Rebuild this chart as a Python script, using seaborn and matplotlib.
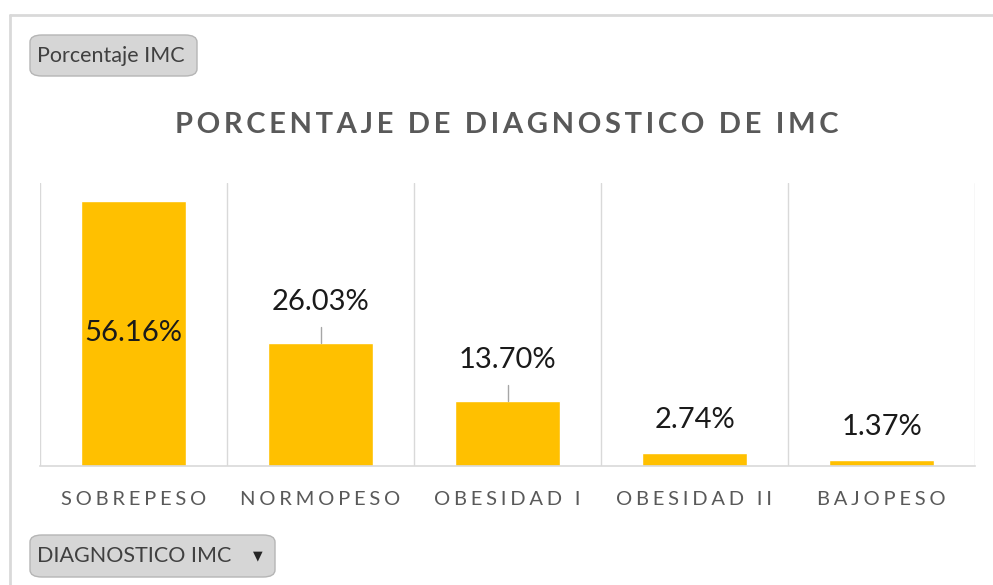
import matplotlib
matplotlib.use("Agg")
import matplotlib.pyplot as plt
import seaborn as sns
import pandas as pd
from matplotlib.patches import FancyBboxPatch
from matplotlib.lines import Line2D

categorias = ["SOBREPESO", "NORMOPESO", "OBESIDAD I", "OBESIDAD II", "BAJOPESO"]
porcentajes = [56.16, 26.03, 13.70, 2.74, 1.37]
etiquetas = ["56.16%", "26.03%", "13.70%", "2.74%", "1.37%"]
titulo = "PORCENTAJE DE DIAGNOSTICO DE IMC"
boton_arriba = "Porcentaje IMC"
boton_abajo = "DIAGNOSTICO IMC"

sns.set_style("white")
plt.rcParams["font.family"] = ["Lato", "DejaVu Sans"]

W, H = 993, 585


def espaciar(s, sep="\u2009"):
    # imitate the letter spacing of the original
    return sep.join(s)


df = pd.DataFrame({"cat": categorias, "pct": porcentajes})

fig = plt.figure(figsize=(W / 100, H / 100), dpi=100)
ax = fig.add_axes([40 / W, (H - 466) / H, (975 - 40) / W, (466 - 183) / H])

sns.barplot(data=df, x="cat", y="pct", color="#FFC000", width=0.56,
            saturation=1, ax=ax)
ax.set_ylim(0, 60)
ax.set_xlim(-0.5, len(categorias) - 0.5)
ax.set_xlabel("")
ax.set_ylabel("")
ax.set_yticks([])
ax.set_xticks(range(len(categorias)))
ax.set_xticklabels([espaciar(c, "\u2009\u200a") for c in categorias],
                   fontsize=14.5, color="#595959")
ax.tick_params(axis="x", length=0, pad=18)
for s in ["top", "right", "left"]:
    ax.spines[s].set_visible(False)
ax.spines["bottom"].set_color("#d9d9d9")
ax.spines["bottom"].set_linewidth(1.2)

# vertical separators between categories
for xv in [i - 0.5 for i in range(len(categorias) + 1)]:
    ax.axvline(xv, color="#d9d9d9", lw=1, zorder=0)

# data labels (offsets in pixels, converted to data units)
ppu = (466 - 183) / 60
for i, (v, lab) in enumerate(zip(porcentajes, etiquetas)):
    if i == 0:
        ax.text(i, v - 28, lab, ha="center", va="center",
                fontsize=21, color="#1a1a1a")
    elif v > 10:
        ax.plot([i, i], [v, v + 16 / ppu], color="#a6a6a6", lw=1)
        ax.text(i, v + 41 / ppu, lab, ha="center", va="center",
                fontsize=21, color="#1a1a1a")
    else:
        ax.text(i, v + 33 / ppu, lab, ha="center", va="center",
                fontsize=21, color="#1a1a1a")

# title
fig.text(507 / W, 1 - 125 / H, espaciar(titulo, "\u2009"), ha="center",
         va="center", fontsize=21, fontweight="bold", color="#595959")

# outer frame
fig.add_artist(Line2D([10 / W, 1], [1 - 15 / H, 1 - 15 / H],
                      color="#d9d9d9", lw=2, transform=fig.transFigure))
fig.add_artist(Line2D([10 / W, 10 / W], [0, 1 - 15 / H],
                      color="#d9d9d9", lw=2, transform=fig.transFigure))


def boton(x0, y0, x1, y1, texto, flecha=False):
    caja = FancyBboxPatch((x0 / W, 1 - y1 / H), (x1 - x0) / W, (y1 - y0) / H,
                          boxstyle="round,pad=0,rounding_size=0.012",
                          transform=fig.transFigure, facecolor="#d6d6d6",
                          edgecolor="#b5b5b5", lw=1)
    fig.add_artist(caja)
    fig.text((x0 + 7) / W, 1 - (y0 + y1) / 2 / H, texto, ha="left",
             va="center", fontsize=15.5, color="#404040")
    if flecha:
        fig.text((x1 - 17) / W, 1 - (y0 + y1) / 2 / H, "\u25BC", ha="center",
                 va="center", fontsize=9, color="#262626",
                 family=["DejaVu Sans"])


boton(30, 35, 197, 76, boton_arriba)
boton(30, 535, 275, 577, boton_abajo, flecha=True)

fig.savefig("out.png", dpi=100)
